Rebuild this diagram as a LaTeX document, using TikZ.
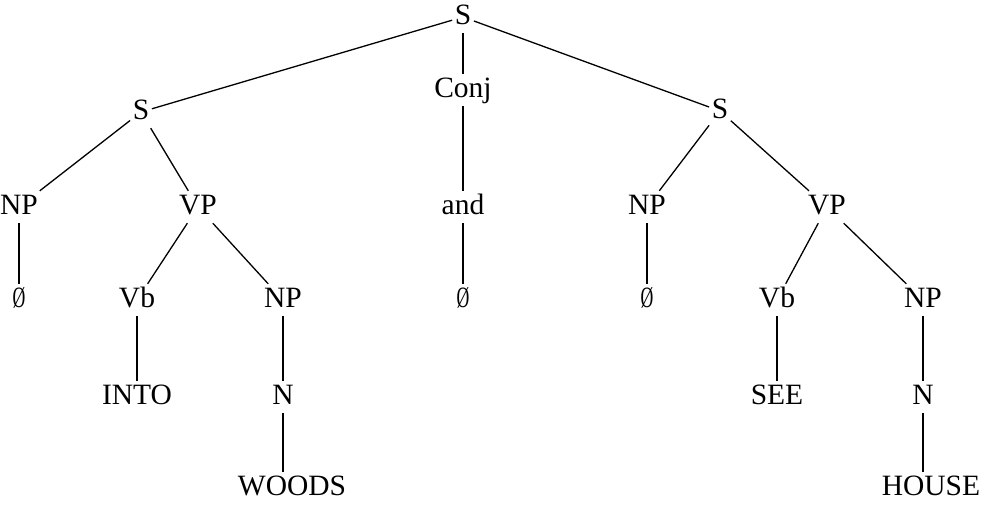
\documentclass[tikz,border=0pt]{standalone}
\usepackage{fontspec}
\setmainfont{Liberation Serif}
\usepackage{graphicx}
\newcommand{\nullsym}{\scalebox{0.6}[1]{Ø}}
\begin{document}
\begin{tikzpicture}[x=1pt,y=-1pt,
  lbl/.style={anchor=base, inner sep=2.5pt, text height=20.5pt, text depth=6.5pt,
              font=\fontsize{29.5}{32}\selectfont},
  edge/.style={line width=1.3pt}]
\useasboundingbox (0,0) rectangle (989,504);
% level 0
\node[lbl] (s0) at (463,24) {S};
% level 1
\node[lbl] (s1) at (141,119) {S};
\node[lbl] (conj) at (463,97) {Conj};
\node[lbl] (s2) at (720,118) {S};
% level 2
\node[lbl] (np1) at (19,214) {NP};
\node[lbl] (vp1) at (198,214) {VP};
\node[lbl] (and) at (463,214) {and};
\node[lbl] (np2) at (647,214) {NP};
\node[lbl] (vp2) at (827,214) {VP};
% level 3
\node[lbl] (z1) at (19,307) {\nullsym};
\node[lbl] (vb1) at (137,307) {Vb};
\node[lbl] (np3) at (283,307) {NP};
\node[lbl] (z2) at (463,307) {\nullsym};
\node[lbl] (z3) at (647,307) {\nullsym};
\node[lbl] (vb2) at (777,307) {Vb};
\node[lbl] (np4) at (923,307) {NP};
% level 4
\node[lbl] (into) at (137,404) {INTO};
\node[lbl] (n1) at (283,404) {N};
\node[lbl] (see) at (777,404) {SEE};
\node[lbl] (n2) at (923,404) {N};
% level 5
\node[lbl] (woods) at (292,495) {WOODS};
\node[lbl] (house) at (931,495) {HOUSE};
% edges
\draw[edge] (s0) -- (s1);
\draw[edge] (s0) -- (conj);
\draw[edge] (s0) -- (s2);
\draw[edge] (s1) -- (np1);
\draw[edge] (s1) -- (vp1);
\draw[edge] (conj) -- (and);
\draw[edge] (s2) -- (np2);
\draw[edge] (s2) -- (vp2);
\draw[edge] (np1) -- (z1);
\draw[edge] (vp1) -- (vb1);
\draw[edge] (vp1) -- (np3);
\draw[edge] (and) -- (z2);
\draw[edge] (np2) -- (z3);
\draw[edge] (vp2) -- (vb2);
\draw[edge] (vp2) -- (np4);
\draw[edge] (vb1) -- (into);
\draw[edge] (np3) -- (n1);
\draw[edge] (n1.south) -- (n1.south |- woods.north);
\draw[edge] (vb2) -- (see);
\draw[edge] (np4) -- (n2);
\draw[edge] (n2.south) -- (n2.south |- house.north);
\end{tikzpicture}
\end{document}
